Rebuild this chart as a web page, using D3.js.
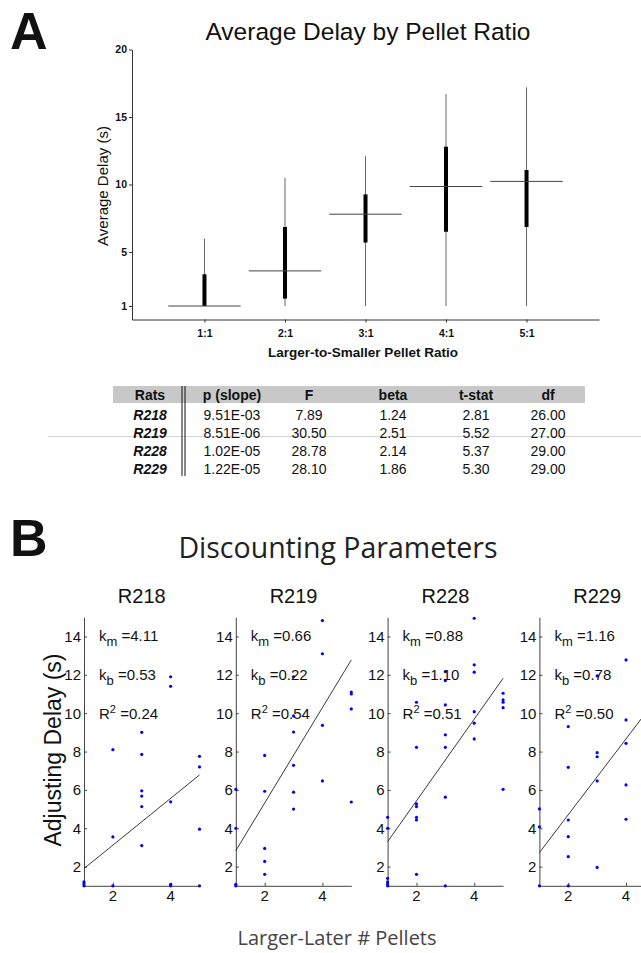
<!DOCTYPE html>
<html><head><meta charset="utf-8">
<script src="https://cdn.jsdelivr.net/npm/d3@7"></script>
<style>
body{margin:0;background:#fff;}
svg{display:block;font-family:"Liberation Sans",Arial,sans-serif;}
</style></head>
<body>
<svg id="c" width="641" height="953"></svg>
<script>
// ---------- Panel A data ----------
const ratios = ["1:1","2:1","3:1","4:1","5:1"];
const delayMin = [1, 1, 1, 1, 1];
const delayMax = [6.0, 10.5, 12.1, 16.7, 17.2];
const delayQ1 = [1.0, 1.55, 5.7, 6.5, 6.85];
const delayQ3 = [3.35, 6.85, 9.27, 12.8, 11.07];
const delayMean = [1.0, 3.6, 7.8, 9.85, 10.23];
const yTicksA = [1, 5, 10, 15, 20];

// ---------- Table data ----------
const tableCols = ["Rats","p (slope)","F","beta","t-stat","df"];
const rats = ["R218","R219","R228","R229"];
const pSlope = ["9.51E-03","8.51E-06","1.02E-05","1.22E-05"];
const fStat = ["7.89","30.50","28.78","28.10"];
const betaVals = ["1.24","2.51","2.14","1.86"];
const tStat = ["2.81","5.52","5.37","5.30"];
const dfVals = ["26.00","27.00","29.00","29.00"];

// ---------- Panel B data ----------
const panels = ["R218","R219","R228","R229"];
const ptsX = [
  [1,1,1,2,2,2,3,3,3,3,3,3,4,4,4,4,4,5,5,5,5],
  [1,1,1,1,2,2,2,2,2,3,3,3,3,3,3,4,4,4,4,5,5,5,5],
  [1,1,1,1,1,1,2,2,2,2,2,2,2,3,3,3,3,3,3,3,4,4,4,4,4,4,5,5,5,5,5],
  [1,1,1,2,2,2,2,2,2,3,3,3,3,3,4,4,4,4,4]
];
const ptsY = [
  [1.2,1.1,1.0,8.1,3.55,1.0,9.0,7.85,5.95,5.68,5.13,3.1,11.9,11.4,5.38,1.08,1.0,7.75,7.2,3.95,1.0],
  [6.03,4.0,1.08,1.0,7.8,5.93,2.95,2.27,1.6,11.9,9.86,9.02,7.28,5.88,5.0,14.83,13.1,9.37,6.47,11.1,11.0,10.22,5.37],
  [4.57,4.0,1.39,1.21,1.09,1.0,10.57,8.22,5.27,5.13,4.57,4.43,1.6,12.17,11.7,10.43,8.87,8.22,5.62,1.0,14.95,12.52,12.14,10.08,9.48,8.66,11.04,10.69,10.57,10.29,6.03],
  [5.01,4.08,1.0,9.3,7.18,4.43,3.56,2.52,1.0,11.95,7.94,7.73,6.47,1.96,12.78,9.65,8.43,6.26,4.47]
];
const fitAt1 = [1.9, 2.83, 3.3, 2.73];
const fitAt5 = [6.78, 12.78, 11.82, 10.64];
const kmVals = ["4.11","0.66","0.88","1.16"];
const kbVals = ["0.53","0.22","1.10","0.78"];
const r2Vals = ["0.24","0.54","0.51","0.50"];
const yTicksB = [2,4,6,8,10,12,14];
const xTicksB = [2,4];

const svg = d3.select("#c");

// ================= Panel A =================
svg.append("text").attr("x",10).attr("y",49).attr("font-size",52).attr("font-weight","bold").attr("fill","#111").text("A");
svg.append("text").attr("x",368).attr("y",40).attr("text-anchor","middle").attr("font-size",24.5).attr("fill","#111").text("Average Delay by Pellet Ratio");

const xA = d3.scaleLinear().domain([0.1, 5.9]).range([132, 599]);
const yA = d3.scaleLinear().domain([0, 20]).range([319.5, 49.5]);

const gA = svg.append("g");
const yAxisA = d3.axisLeft(yA).tickValues(yTicksA).tickSize(3).tickSizeOuter(0).tickPadding(2);
gA.append("g").attr("transform","translate(132,0)").call(yAxisA)
  .call(g=>{g.select(".domain").attr("stroke","#333"); g.selectAll(".tick line").attr("stroke","#333");
    g.selectAll("text").attr("font-size",10.5).attr("font-weight","bold").attr("fill","#111").attr("font-family","Liberation Sans, Arial");});
const xAxisA = d3.axisBottom(xA).tickValues([1,2,3,4,5]).tickFormat((d,i)=>ratios[i]).tickSize(3).tickSizeOuter(0).tickPadding(7);
gA.append("g").attr("transform","translate(0,319.5)").call(xAxisA)
  .call(g=>{g.select(".domain").attr("stroke","#333"); g.selectAll(".tick line").attr("stroke","#333");
    g.selectAll("text").attr("font-size",10.5).attr("font-weight","bold").attr("fill","#111").attr("font-family","Liberation Sans, Arial");});

ratios.forEach((r,i)=>{
  const cx = xA(i+1);
  gA.append("line").attr("x1",cx).attr("x2",cx).attr("y1",yA(delayMin[i])).attr("y2",yA(delayMax[i])).attr("stroke","#666").attr("stroke-width",1);
  gA.append("line").attr("x1",cx).attr("x2",cx).attr("y1",yA(delayQ1[i])).attr("y2",yA(delayQ3[i])).attr("stroke","#000").attr("stroke-width",4);
  gA.append("line").attr("x1",xA(i+1-0.45)).attr("x2",xA(i+1+0.45)).attr("y1",yA(delayMean[i])).attr("y2",yA(delayMean[i])).attr("stroke","#444").attr("stroke-width",1);
});
svg.append("text").attr("transform","translate(108,186) rotate(-90)").attr("text-anchor","middle").attr("font-size",15).attr("fill","#111").text("Average Delay (s)");
svg.append("text").attr("x",363).attr("y",357).attr("text-anchor","middle").attr("font-size",13.5).attr("font-weight","bold").attr("fill","#111").text("Larger-to-Smaller Pellet Ratio");

// ================= Table =================
const colX = [150, 232, 309, 393, 476, 548];
const rowY = [400, 420, 438, 456, 474];
svg.append("rect").attr("x",113).attr("y",386).attr("width",472).attr("height",17).attr("fill","#c8c8c8");
svg.append("line").attr("x1",48).attr("x2",641).attr("y1",436.5).attr("y2",436.5).attr("stroke","#d4d4d4").attr("stroke-width",1);
[182,185].forEach(x=>svg.append("line").attr("x1",x).attr("x2",x).attr("y1",386).attr("y2",476).attr("stroke","#111").attr("stroke-width",1));
tableCols.forEach((c,j)=>svg.append("text").attr("x",colX[j]).attr("y",rowY[0]).attr("text-anchor","middle").attr("font-size",14).attr("font-weight","bold").attr("fill","#111").text(c));
const colsData = [rats, pSlope, fStat, betaVals, tStat, dfVals];
rats.forEach((r,i)=>{
  colsData.forEach((col,j)=>{
    const t = svg.append("text").attr("x",colX[j]).attr("y",rowY[i+1]).attr("text-anchor","middle").attr("font-size",14).attr("fill","#111").text(col[i]);
    if(j===0) t.attr("font-weight","bold").attr("font-style","italic");
  });
});

// ================= Panel B =================
svg.append("text").attr("x",10).attr("y",556).attr("font-size",52).attr("font-weight","bold").attr("fill","#111").text("B");
svg.append("text").attr("x",338).attr("y",558).attr("text-anchor","middle").attr("font-size",28.5).attr("fill","#222").attr("font-family","Open Sans, Noto Sans, sans-serif").text("Discounting Parameters");

const yB = d3.scaleLinear().domain([1, 15]).range([885.8, 617.3]);
panels.forEach((name,p)=>{
  const left = 84 + p*151.8;
  const xB = d3.scaleLinear().domain([1,5]).range([left, left+115.5]);
  const g = svg.append("g");
  g.append("text").attr("x",(left+left+115.5)/2).attr("y",603).attr("text-anchor","middle").attr("font-size",20).attr("fill","#111").text(name);
  // axes
  const ya = d3.axisRight(yB).tickValues(yTicksB).tickSize(3).tickSizeOuter(0).tickFormat("");
  g.append("g").attr("transform",`translate(${left},0)`).call(ya).call(s=>{s.select(".domain").attr("stroke","#444");s.selectAll(".tick line").attr("stroke","#444");});
  yTicksB.forEach(v=>g.append("text").attr("x",left-3).attr("y",yB(v)).attr("dy","0.36em").attr("text-anchor","end").attr("font-size",15).attr("fill","#111").text(v));
  const xa = d3.axisTop(xB).tickValues(xTicksB).tickSize(3).tickSizeOuter(0).tickFormat("");
  g.append("g").attr("transform",`translate(0,885.8)`).call(xa).call(s=>{s.select(".domain").attr("stroke","#444");s.selectAll(".tick line").attr("stroke","#444");});
  xTicksB.forEach(v=>g.append("text").attr("x",xB(v)).attr("y",901).attr("text-anchor","middle").attr("font-size",15).attr("fill","#111").text(v));
  // fit line
  g.append("line").attr("x1",xB(1)).attr("y1",yB(fitAt1[p])).attr("x2",xB(5)).attr("y2",yB(fitAt5[p])).attr("stroke","#222").attr("stroke-width",0.9);
  // points
  g.selectAll("circle").data(ptsX[p].map((x,i)=>[x,ptsY[p][i]])).join("circle")
    .attr("cx",d=>xB(d[0])).attr("cy",d=>yB(d[1])).attr("r",1.6).attr("fill","#0000ff");
  // annotations
  const ax = left + 15;
  const t1 = g.append("text").attr("x",ax).attr("y",yB(14)+5).attr("font-size",15).attr("fill","#111");
  t1.append("tspan").text("k");
  t1.append("tspan").attr("dy",5).attr("font-size",13).text("m");
  t1.append("tspan").attr("dy",-5).text(" =" + kmVals[p]);
  const t2 = g.append("text").attr("x",ax).attr("y",yB(12)+5).attr("font-size",15).attr("fill","#111");
  t2.append("tspan").text("k");
  t2.append("tspan").attr("dy",5).attr("font-size",13).text("b");
  t2.append("tspan").attr("dy",-5).text(" =" + kbVals[p]);
  const t3 = g.append("text").attr("x",ax).attr("y",yB(10)+6).attr("font-size",15).attr("fill","#111");
  t3.append("tspan").text("R");
  t3.append("tspan").attr("dy",-6).attr("font-size",11).text("2");
  t3.append("tspan").attr("dy",6).text(" =" + r2Vals[p]);
});
svg.append("text").attr("transform","translate(61,750) rotate(-90)").attr("text-anchor","middle").attr("font-size",23).attr("fill","#111").text("Adjusting Delay (s)");
svg.append("text").attr("x",337).attr("y",945).attr("text-anchor","middle").attr("font-size",20).attr("fill","#444").attr("font-family","Open Sans, Noto Sans, sans-serif").text("Larger-Later # Pellets");
</script>
</body></html>
